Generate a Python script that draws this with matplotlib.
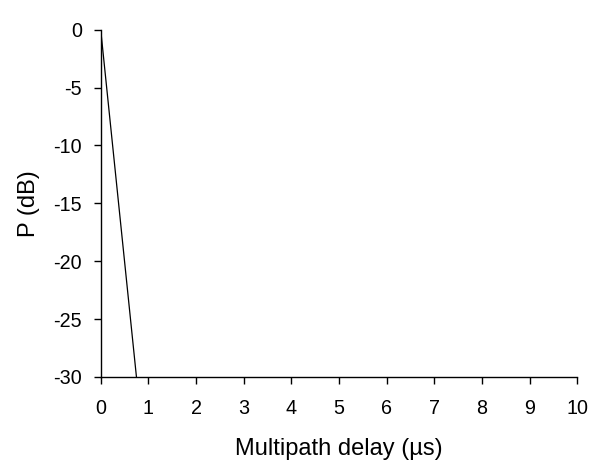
import matplotlib
matplotlib.use("Agg")
import matplotlib.pyplot as plt

plt.rcParams['font.family'] = ['Liberation Sans', 'DejaVu Sans']

delay_us = [0.0, 0.75]
power_db = [0.0, -30.0]
x_ticks = [0, 1, 2, 3, 4, 5, 6, 7, 8, 9, 10]
y_ticks = [0, -5, -10, -15, -20, -25, -30]

fig = plt.figure(figsize=(5.91, 4.66), dpi=100)
ax = fig.add_axes([0.1704, 0.191, 0.8064, 0.7453])
ax.plot(delay_us, power_db, color='black', linewidth=0.9)
ax.set_xlim(0, 10)
ax.set_ylim(-30, 0)
ax.set_xticks(x_ticks)
ax.set_yticks(y_ticks)
ax.set_yticklabels([str(v) for v in y_ticks])
for s in ['top', 'right']:
    ax.spines[s].set_visible(False)
for s in ['left', 'bottom']:
    ax.spines[s].set_linewidth(1.0)
ax.tick_params(direction='out', length=5, width=1.0, labelsize=14.2)
ax.tick_params(axis='y', pad=8.5)
ax.tick_params(axis='x', pad=10.5)
ax.set_xlabel('Multipath delay (µs)', fontsize=17)
ax.set_ylabel('P (dB)', fontsize=17)
ax.xaxis.set_label_coords(0.5, -0.177)
ax.yaxis.set_label_coords(-0.1275, 0.5)
fig.savefig('out.png', dpi=100)
